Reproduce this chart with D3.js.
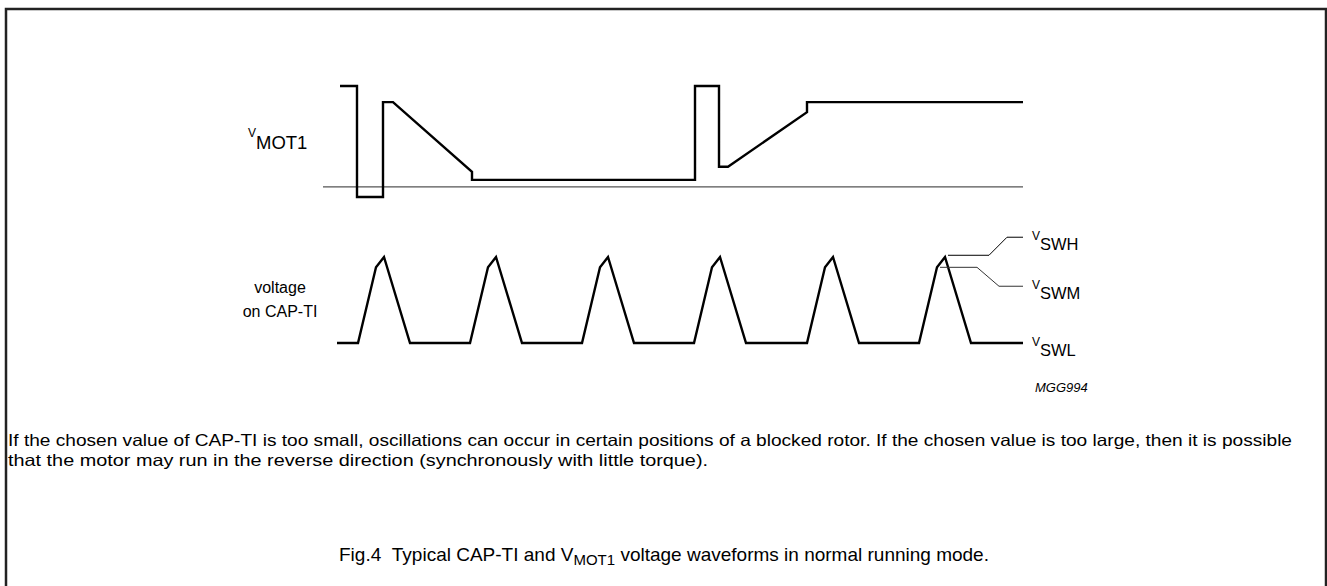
<!DOCTYPE html>
<html>
<head>
<meta charset="utf-8">
<title>Fig.4 CAP-TI and VMOT1 waveforms</title>
<script src="https://d3js.org/d3.v7.min.js"></script>
<style>
  body { margin: 0; background: #fff; }
  text { font-family: "Liberation Sans", Arial, sans-serif; fill: #000; }
</style>
</head>
<body>
<div id="chart"></div>
<script>
// time is in arbitrary units, shared by both traces
var vmotTime  = [17, 34, 34, 60, 60, 70, 149, 149, 372, 372, 396, 396, 405, 484, 484, 700];
var vmotLevel = [10, 10, -1, -1, 8.4, 8.4, 1.5, 0.7, 0.7, 10, 10, 2.0, 2.0, 7.4, 8.4, 8.4];

var capTime  = [14, 35, 53, 61, 87, 147, 165, 173, 199, 259, 277, 285, 311,
                371, 389, 397, 423, 484, 502, 510, 536, 596, 614, 622, 648, 700];
var capLevel = [0, 0, 8.8, 10, 0, 0, 8.8, 10, 0, 0, 8.8, 10, 0,
                0, 8.8, 10, 0, 0, 8.8, 10, 0, 0, 8.8, 10, 0, 0];

// leader lines to the level labels
var swhTime  = [625, 666, 684, 700];
var swhLevel = [10.2, 10.2, 12.3, 12.3];
var swmTime  = [617, 654, 676, 700];
var swmLevel = [8.8, 8.8, 6.6, 6.6];

var levelNames  = ["SWH", "SWM", "SWL"];
var levelValues = [12.3, 6.6, 0];

var noteLines = [
  "If the chosen value of CAP-TI is too small, oscillations can occur in certain positions of a blocked rotor. If the chosen value is too large, then it is possible",
  "that the motor may run in the reverse direction (synchronously with little torque)."
];

var width = 1327, height = 586;

var svg = d3.select("#chart").append("svg")
    .attr("width", width)
    .attr("height", height);

// frame (open at the bottom)
svg.append("rect")
   .attr("x", 6).attr("y", 9)
   .attr("width", 1320).attr("height", 640)
   .attr("fill", "none")
   .attr("stroke", "#222")
   .attr("stroke-width", 2.5);

var x = d3.scaleLinear().domain([0, 700]).range([323, 1023]);
var yMot = d3.scaleLinear().domain([-1, 10]).range([197, 86]);
var yCap = d3.scaleLinear().domain([0, 10]).range([343, 257]);

function trace(times, levels, y) {
  return d3.line()
    .x(function(d) { return x(d[0]); })
    .y(function(d) { return y(d[1]); })(d3.zip(times, levels));
}

// VMOT1 zero line
svg.append("line")
   .attr("x1", x(0)).attr("x2", x(700))
   .attr("y1", yMot(0)).attr("y2", yMot(0))
   .attr("stroke", "#555").attr("stroke-width", 1.3);

svg.append("path")
   .attr("d", trace(vmotTime, vmotLevel, yMot))
   .attr("fill", "none").attr("stroke", "#000").attr("stroke-width", 2.4);

svg.append("path")
   .attr("d", trace(capTime, capLevel, yCap))
   .attr("fill", "none").attr("stroke", "#000").attr("stroke-width", 2.4);

svg.append("path")
   .attr("d", trace(swhTime, swhLevel, yCap))
   .attr("fill", "none").attr("stroke", "#000").attr("stroke-width", 1);

svg.append("path")
   .attr("d", trace(swmTime, swmLevel, yCap))
   .attr("fill", "none").attr("stroke", "#333").attr("stroke-width", 1);

// level labels V_SWH, V_SWM, V_SWL
var lab = svg.selectAll(".lvl").data(levelNames).enter().append("text")
   .attr("class", "lvl")
   .attr("x", x(700) + 9)
   .attr("y", function(d, i) { return yCap(levelValues[i]) + 3; });
lab.append("tspan").style("font-size", "12px").text("V");
lab.append("tspan").attr("dy", 10).style("font-size", "16.5px").text(function(d) { return d; });

// V_MOT1 label
var mot = svg.append("text").attr("x", 248).attr("y", 137);
mot.append("tspan").style("font-size", "12px").text("V");
mot.append("tspan").attr("dy", 12).style("font-size", "18.5px").text("MOT1");

// voltage on CAP-TI
svg.append("text").attr("x", 280).attr("y", 293)
   .attr("text-anchor", "middle").style("font-size", "16px").text("voltage");
svg.append("text").attr("x", 280).attr("y", 317)
   .attr("text-anchor", "middle").style("font-size", "16px").text("on CAP-TI");

svg.append("text").attr("x", 1035).attr("y", 392)
   .style("font-size", "13px").style("font-style", "italic").text("MGG994");

// note paragraph, condensed type
svg.selectAll(".note").data(noteLines).enter().append("text")
   .attr("class", "note")
   .attr("x", 8)
   .attr("y", function(d, i) { return 446 + i * 20; })
   .style("font-size", "16.5px")
   .attr("textLength", function(d, i) { return i === 0 ? 1284 : 700; })
   .attr("lengthAdjust", "spacingAndGlyphs")
   .text(function(d) { return d; });

// caption
var cap = svg.append("text").attr("x", 664).attr("y", 561)
   .attr("text-anchor", "middle").style("font-size", "19px");
cap.append("tspan").text("Fig.4\u00a0\u00a0Typical CAP-TI and V");
cap.append("tspan").attr("dy", 4).style("font-size", "15px").text("MOT1");
cap.append("tspan").attr("dy", -4).text(" voltage waveforms in normal running mode.");
</script>
</body>
</html>
